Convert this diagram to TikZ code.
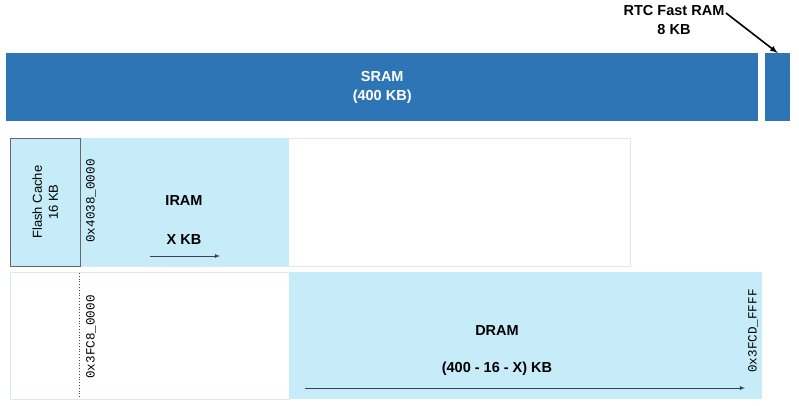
\documentclass[tikz,border=0pt]{standalone}
\usepackage{fontspec}
\setmainfont{Liberation Sans}
\setmonofont{Liberation Mono}
\definecolor{sramblue}{RGB}{46,117,182}
\definecolor{lightcyan}{RGB}{198,236,250}
\definecolor{edgegray}{RGB}{225,232,235}

\begin{document}
\begin{tikzpicture}[x=1pt, y=-1pt,
    block/.style = {shape=rectangle, inner sep=0pt, anchor=north west},
    bold/.style = {font=\bfseries\fontsize{14.5}{18.5}\selectfont, align=center},
    plain/.style = {font=\fontsize{13}{16}\selectfont, align=center},
    hexlabel/.style = {font=\ttfamily\fontsize{12.6}{14}\selectfont, rotate=90},
    span/.style = {-latex, draw=black!75, thick}]
  \useasboundingbox (0,0) rectangle (799,405);
  % sram row
  \node[block, fill=sramblue, text=white, bold, minimum width=752, minimum height=68] (sram) at (6,53) {SRAM\\(400 KB)};
  \node[block, fill=sramblue, minimum width=25, minimum height=68] (rtc) at (765,53) {};
  \node[bold] (rtclabel) at (674,20) {RTC Fast RAM\\8 KB};
  \coordinate (rtcfrom) at (726,13);
  \draw[-latex, line width=1.6pt] (rtcfrom) -- (rtc.north);
  % iram row
  \node[block, draw=edgegray, minimum width=620, minimum height=128] (toprow) at (10,138) {};
  \node[block, fill=lightcyan, minimum width=209, minimum height=128] (iram) at (80,138) {};
  \node[block, fill=lightcyan, draw=black!60, minimum width=70, minimum height=128] (flashcache) at (10,138) {};
  \node[plain, rotate=90] at (flashcache.center) {Flash Cache\\16 KB};
  \node[hexlabel] (iramaddr) at (91,201) {0x4038\_0000};
  \node[bold] (iramname) at (184,201) {IRAM};
  \node[bold] (iramsize) at (184,240) {X KB};
  \coordinate (iramfrom) at (150,256);
  \coordinate (iramto) at (220,256);
  \draw[span] (iramfrom) -- (iramto);
  % dram row
  \node[block, draw=edgegray, minimum width=279, minimum height=127] (botrow) at (10,272) {};
  \node[block, fill=lightcyan, minimum width=473, minimum height=127] (dram) at (289,272) {};
  \coordinate (dottop) at (79,273);
  \coordinate (dotbot) at (79,398);
  \draw[dotted, thick, black!70] (dottop) -- (dotbot);
  \node[hexlabel] (dramaddr) at (91,337) {0x3FC8\_0000};
  \node[hexlabel] (dramend) at (753,331) {0x3FCD\_FFFF};
  \node[bold] (dramname) at (497,331) {DRAM};
  \node[bold] (dramsize) at (497,369) {(400 - 16 - X) KB};
  \coordinate (dramfrom) at (305,388);
  \coordinate (dramto) at (745,388);
  \draw[span] (dramfrom) -- (dramto);
\end{tikzpicture}
\end{document}
